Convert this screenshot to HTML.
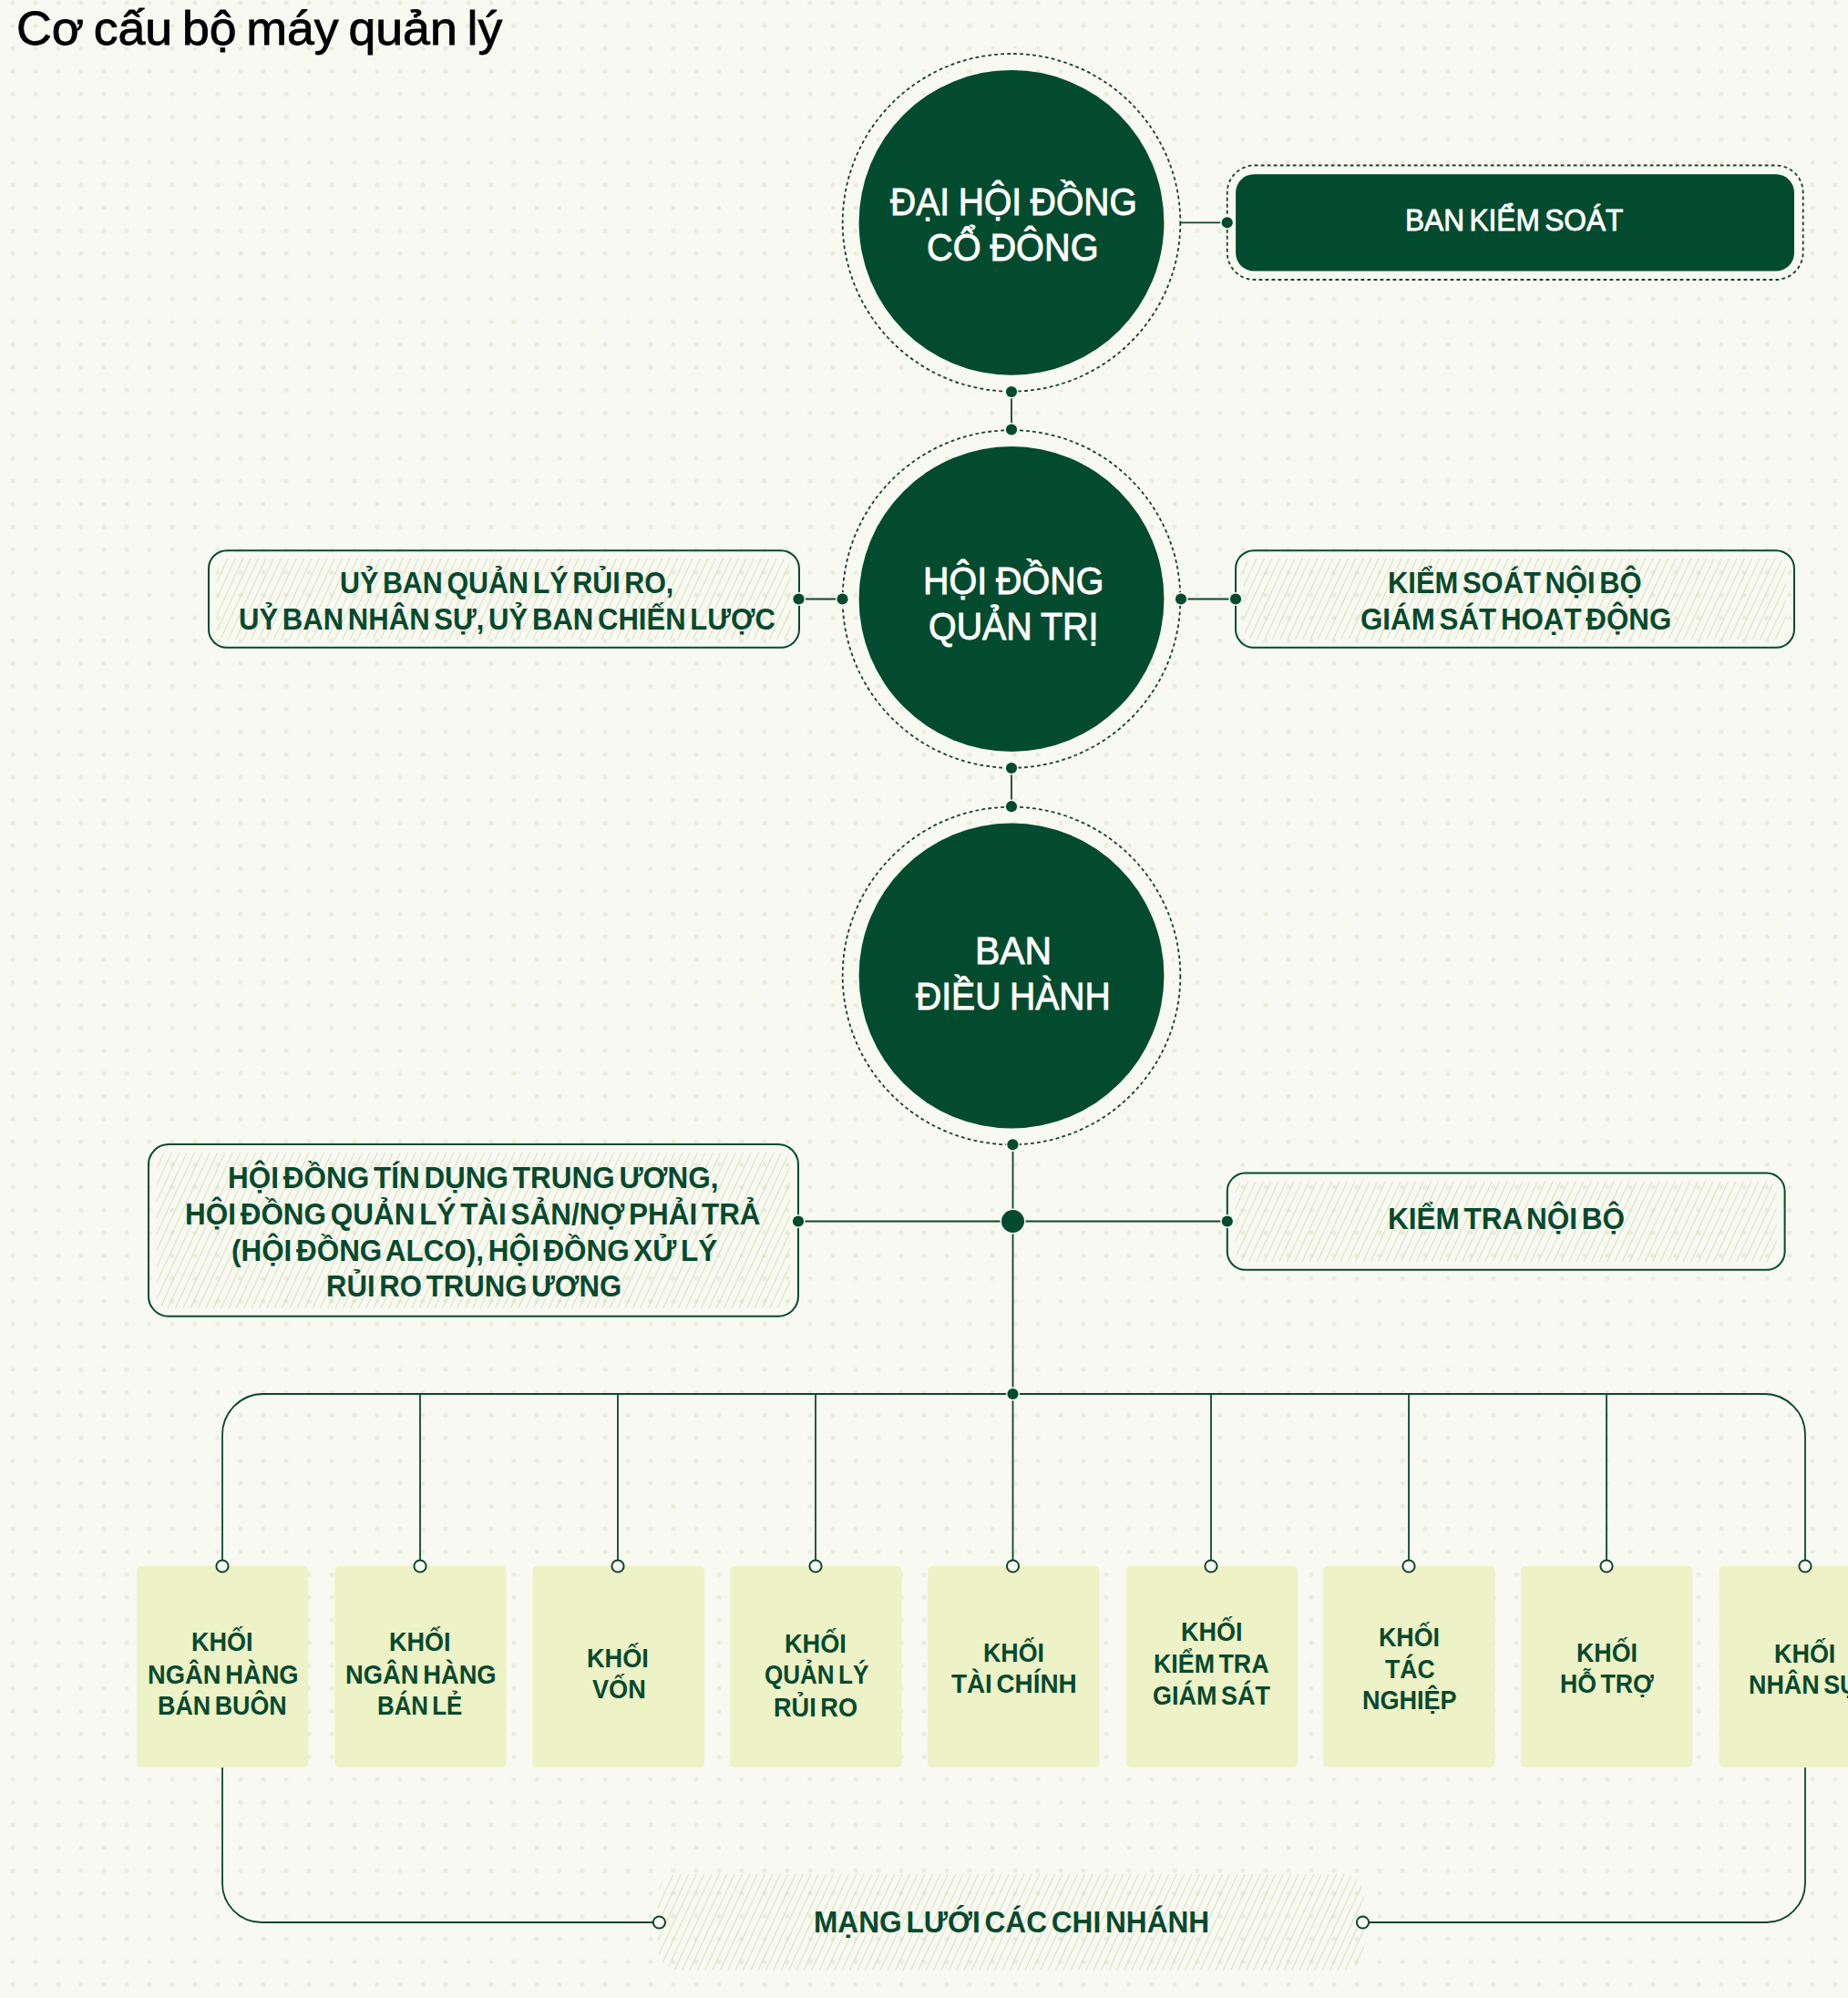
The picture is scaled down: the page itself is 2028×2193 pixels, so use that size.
<!DOCTYPE html>
<html><head><meta charset="utf-8"><title>Cơ cấu bộ máy quản lý</title>
<style>
html,body{margin:0;padding:0}
body{width:2028px;height:2193px;position:relative;overflow:hidden;background:#f8f9f1;font-family:"Liberation Sans",sans-serif}
.t{position:absolute;white-space:nowrap;transform-origin:0 0}
</style></head><body>
<svg width="2028" height="2193" viewBox="0 0 2028 2193" style="position:absolute;left:0;top:0"><defs><pattern id="dots" x="1.5" y="-9.3" width="25" height="25" patternUnits="userSpaceOnUse"><circle cx="12.5" cy="12.5" r="2.5" fill="#e9edd8"/></pattern><pattern id="hatch" width="7.58" height="8" patternUnits="userSpaceOnUse" patternTransform="rotate(25)"><rect x="0" y="0" width="1" height="8" fill="#d9dfbf"/></pattern></defs><rect width="2028" height="2193" fill="#f8f9f1"/><rect width="2028" height="2193" fill="url(#dots)"/><circle cx="1110" cy="244.3" r="185.3" fill="none" stroke="#f8f9f1" stroke-width="12"/><circle cx="1110" cy="244.3" r="185.3" fill="none" stroke="#163f2c" stroke-width="1.8" stroke-dasharray="3.8 3.2"/><circle cx="1110" cy="244.3" r="167.4" fill="#034b2e"/><circle cx="1110" cy="657.5" r="185.3" fill="none" stroke="#f8f9f1" stroke-width="12"/><circle cx="1110" cy="657.5" r="185.3" fill="none" stroke="#163f2c" stroke-width="1.8" stroke-dasharray="3.8 3.2"/><circle cx="1110" cy="657.5" r="167.4" fill="#034b2e"/><circle cx="1110" cy="1071" r="185.3" fill="none" stroke="#f8f9f1" stroke-width="12"/><circle cx="1110" cy="1071" r="185.3" fill="none" stroke="#163f2c" stroke-width="1.8" stroke-dasharray="3.8 3.2"/><circle cx="1110" cy="1071" r="167.4" fill="#034b2e"/><rect x="1346.7" y="181.5" width="632" height="125.5" rx="30" fill="#f8f9f1" stroke="#163f2c" stroke-width="1.8" stroke-dasharray="3.8 3.2"/><rect x="1356.1" y="191.3" width="612.9" height="106.2" rx="20" fill="#034b2e"/><rect x="238" y="613.2" width="630" height="88.59999999999991" rx="11" fill="url(#hatch)"/><rect x="229" y="604.2" width="648" height="106.59999999999991" rx="20" fill="none" stroke="#034b2e" stroke-width="2"/><rect x="1365" y="613.2" width="595" height="88.59999999999991" rx="11" fill="url(#hatch)"/><rect x="1356" y="604.2" width="613" height="106.59999999999991" rx="20" fill="none" stroke="#034b2e" stroke-width="2"/><rect x="172" y="1265" width="695" height="170.79999999999995" rx="13" fill="url(#hatch)"/><rect x="163" y="1256" width="713" height="188.79999999999995" rx="22" fill="none" stroke="#034b2e" stroke-width="2"/><rect x="1355.8" y="1296.5" width="593.8" height="88.29999999999995" rx="11" fill="url(#hatch)"/><rect x="1346.8" y="1287.5" width="611.8" height="106.29999999999995" rx="20" fill="none" stroke="#034b2e" stroke-width="2"/><rect x="722" y="2057" width="775" height="105.5" rx="24" fill="url(#hatch)"/><rect x="150" y="1719" width="188.2" height="220.8" rx="5" fill="#edf2c7"/><rect x="367.5" y="1719" width="188.2" height="220.8" rx="5" fill="#edf2c7"/><rect x="584.5" y="1719" width="188.2" height="220.8" rx="5" fill="#edf2c7"/><rect x="801.2" y="1719" width="188.2" height="220.8" rx="5" fill="#edf2c7"/><rect x="1018.3" y="1719" width="188.2" height="220.8" rx="5" fill="#edf2c7"/><rect x="1235.8" y="1719" width="188.2" height="220.8" rx="5" fill="#edf2c7"/><rect x="1452.2" y="1719" width="188.2" height="220.8" rx="5" fill="#edf2c7"/><rect x="1669" y="1719" width="188.2" height="220.8" rx="5" fill="#edf2c7"/><rect x="1886.8" y="1719" width="188.2" height="220.8" rx="5" fill="#edf2c7"/><line x1="1295.5" y1="244.3" x2="1346.7" y2="244.3" stroke="#0c462d" stroke-width="1.8"/><line x1="1110" y1="430" x2="1110" y2="471.5" stroke="#0c462d" stroke-width="1.8"/><line x1="876.5" y1="657.5" x2="924.5" y2="657.5" stroke="#0c462d" stroke-width="1.8"/><line x1="1296" y1="657.5" x2="1356" y2="657.5" stroke="#0c462d" stroke-width="1.8"/><line x1="1110" y1="843" x2="1110" y2="885.2" stroke="#0c462d" stroke-width="1.8"/><line x1="1111.5" y1="1256.3" x2="1111.5" y2="1530" stroke="#0c462d" stroke-width="1.8"/><line x1="876" y1="1340.5" x2="1346.8" y2="1340.5" stroke="#0c462d" stroke-width="1.8"/><path d="M244 1719 V1575 A45 45 0 0 1 289 1530 H1936 A45 45 0 0 1 1981 1575 V1719" fill="none" stroke="#0c462d" stroke-width="1.8"/><line x1="461" y1="1530" x2="461" y2="1719" stroke="#0c462d" stroke-width="1.8"/><line x1="678" y1="1530" x2="678" y2="1719" stroke="#0c462d" stroke-width="1.8"/><line x1="895" y1="1530" x2="895" y2="1719" stroke="#0c462d" stroke-width="1.8"/><line x1="1111.5" y1="1530" x2="1111.5" y2="1719" stroke="#0c462d" stroke-width="1.8"/><line x1="1329" y1="1530" x2="1329" y2="1719" stroke="#0c462d" stroke-width="1.8"/><line x1="1546" y1="1530" x2="1546" y2="1719" stroke="#0c462d" stroke-width="1.8"/><line x1="1763" y1="1530" x2="1763" y2="1719" stroke="#0c462d" stroke-width="1.8"/><path d="M244 1940 V2067 A43 43 0 0 0 287 2110 H723.4" fill="none" stroke="#0c462d" stroke-width="1.8"/><path d="M1981 1940 V2067 A43 43 0 0 1 1938 2110 H1495.5" fill="none" stroke="#0c462d" stroke-width="1.8"/><circle cx="1346.7" cy="244.3" r="6.1" fill="#034b2e" stroke="#f8f9f1" stroke-width="3" paint-order="stroke"/><circle cx="1110" cy="430" r="6.1" fill="#034b2e" stroke="#f8f9f1" stroke-width="3" paint-order="stroke"/><circle cx="1110" cy="471.5" r="6.1" fill="#034b2e" stroke="#f8f9f1" stroke-width="3" paint-order="stroke"/><circle cx="924.5" cy="657.5" r="6.1" fill="#034b2e" stroke="#f8f9f1" stroke-width="3" paint-order="stroke"/><circle cx="1296" cy="657.5" r="6.1" fill="#034b2e" stroke="#f8f9f1" stroke-width="3" paint-order="stroke"/><circle cx="1110" cy="843" r="6.1" fill="#034b2e" stroke="#f8f9f1" stroke-width="3" paint-order="stroke"/><circle cx="1110" cy="885.2" r="6.1" fill="#034b2e" stroke="#f8f9f1" stroke-width="3" paint-order="stroke"/><circle cx="1111.4" cy="1256.3" r="6.1" fill="#034b2e" stroke="#f8f9f1" stroke-width="3" paint-order="stroke"/><circle cx="876.5" cy="657.5" r="6.1" fill="#034b2e" stroke="#f8f9f1" stroke-width="3" paint-order="stroke"/><circle cx="1356" cy="657.5" r="6.1" fill="#034b2e" stroke="#f8f9f1" stroke-width="3" paint-order="stroke"/><circle cx="876" cy="1340.5" r="6.1" fill="#034b2e" stroke="#f8f9f1" stroke-width="3" paint-order="stroke"/><circle cx="1346.8" cy="1340.5" r="6.1" fill="#034b2e" stroke="#f8f9f1" stroke-width="3" paint-order="stroke"/><circle cx="1111.5" cy="1530" r="6.1" fill="#034b2e" stroke="#f8f9f1" stroke-width="3" paint-order="stroke"/><circle cx="1111.5" cy="1340.5" r="12.5" fill="#034b2e" stroke="#f8f9f1" stroke-width="3" paint-order="stroke"/><circle cx="244" cy="1719" r="6.6" fill="#f8f9f1" stroke="#0c462d" stroke-width="2"/><circle cx="461" cy="1719" r="6.6" fill="#f8f9f1" stroke="#0c462d" stroke-width="2"/><circle cx="678" cy="1719" r="6.6" fill="#f8f9f1" stroke="#0c462d" stroke-width="2"/><circle cx="895" cy="1719" r="6.6" fill="#f8f9f1" stroke="#0c462d" stroke-width="2"/><circle cx="1111.5" cy="1719" r="6.6" fill="#f8f9f1" stroke="#0c462d" stroke-width="2"/><circle cx="1329" cy="1719" r="6.6" fill="#f8f9f1" stroke="#0c462d" stroke-width="2"/><circle cx="1546" cy="1719" r="6.6" fill="#f8f9f1" stroke="#0c462d" stroke-width="2"/><circle cx="1763" cy="1719" r="6.6" fill="#f8f9f1" stroke="#0c462d" stroke-width="2"/><circle cx="1981" cy="1719" r="6.6" fill="#f8f9f1" stroke="#0c462d" stroke-width="2"/><circle cx="723.4" cy="2110" r="6.6" fill="#f8f9f1" stroke="#0c462d" stroke-width="2"/><circle cx="1495.5" cy="2110" r="6.6" fill="#f8f9f1" stroke="#0c462d" stroke-width="2"/></svg>
<div class=t style="left:18.05px;top:5.80px;font-weight:400;font-size:51.600px;line-height:51.600px;color:#000;-webkit-text-stroke:0.8px #000;word-spacing:-4px;transform:scaleX(1.0398)">Cơ cấu bộ máy quản lý</div>
<div class=t style="left:977.24px;top:201.11px;font-weight:400;font-size:42.000px;line-height:42.000px;color:#fff;-webkit-text-stroke:0.9px #fff;word-spacing:-1.2px;transform:scaleX(0.9285)">ĐẠI HỘI ĐỒNG</div>
<div class=t style="left:1017.41px;top:251.11px;font-weight:400;font-size:42.000px;line-height:42.000px;color:#fff;-webkit-text-stroke:0.9px #fff;word-spacing:-1.2px;transform:scaleX(0.9450)">CỔ ĐÔNG</div>
<div class=t style="left:1012.97px;top:616.51px;font-weight:400;font-size:42.000px;line-height:42.000px;color:#fff;-webkit-text-stroke:0.9px #fff;word-spacing:-1.2px;transform:scaleX(0.9398)">HỘI ĐỒNG</div>
<div class=t style="left:1019.04px;top:666.51px;font-weight:400;font-size:42.000px;line-height:42.000px;color:#fff;-webkit-text-stroke:0.9px #fff;word-spacing:-1.2px;transform:scaleX(0.9379)">QUẢN TRỊ</div>
<div class=t style="left:1069.66px;top:1022.91px;font-weight:400;font-size:42.000px;line-height:42.000px;color:#fff;-webkit-text-stroke:0.9px #fff;word-spacing:-1.2px;transform:scaleX(0.9742)">BAN</div>
<div class=t style="left:1004.94px;top:1072.91px;font-weight:400;font-size:42.000px;line-height:42.000px;color:#fff;-webkit-text-stroke:0.9px #fff;word-spacing:-1.2px;transform:scaleX(0.9303)">ĐIỀU HÀNH</div>
<div class=t style="left:1541.82px;top:224.17px;font-weight:400;font-size:34.000px;line-height:34.000px;color:#fff;-webkit-text-stroke:0.9px #fff;word-spacing:-3.5px;transform:scaleX(0.9294)">BAN KIỂM SOÁT</div>
<div class=t style="left:372.66px;top:623.28px;font-weight:700;font-size:33.400px;line-height:33.400px;color:#07492d;word-spacing:-4.2px;transform:scaleX(0.9113)">UỶ BAN QUẢN LÝ RỦI RO,</div>
<div class=t style="left:262.02px;top:663.48px;font-weight:700;font-size:33.400px;line-height:33.400px;color:#07492d;word-spacing:-4.2px;transform:scaleX(0.9300)">UỶ BAN NHÂN SỰ, UỶ BAN CHIẾN LƯỢC</div>
<div class=t style="left:1523.07px;top:623.28px;font-weight:700;font-size:33.400px;line-height:33.400px;color:#07492d;word-spacing:-4.2px;transform:scaleX(0.9260)">KIỂM SOÁT NỘI BỘ</div>
<div class=t style="left:1492.65px;top:663.48px;font-weight:700;font-size:33.400px;line-height:33.400px;color:#07492d;word-spacing:-4.2px;transform:scaleX(0.9377)">GIÁM SÁT HOẠT ĐỘNG</div>
<div class=t style="left:249.83px;top:1276.08px;font-weight:700;font-size:33.400px;line-height:33.400px;color:#07492d;word-spacing:-4.2px;transform:scaleX(0.9424)">HỘI ĐỒNG TÍN DỤNG TRUNG ƯƠNG,</div>
<div class=t style="left:203.34px;top:1315.58px;font-weight:700;font-size:33.400px;line-height:33.400px;color:#07492d;word-spacing:-4.2px;transform:scaleX(0.9418)">HỘI ĐỒNG QUẢN LÝ TÀI SẢN/NỢ PHẢI TRẢ</div>
<div class=t style="left:254.42px;top:1355.58px;font-weight:700;font-size:33.400px;line-height:33.400px;color:#07492d;word-spacing:-4.2px;transform:scaleX(0.9404)">(HỘI ĐỒNG ALCO), HỘI ĐỒNG XỬ LÝ</div>
<div class=t style="left:357.86px;top:1395.48px;font-weight:700;font-size:33.400px;line-height:33.400px;color:#07492d;word-spacing:-4.2px;transform:scaleX(0.9318)">RỦI RO TRUNG ƯƠNG</div>
<div class=t style="left:1522.53px;top:1321.48px;font-weight:700;font-size:33.400px;line-height:33.400px;color:#07492d;word-spacing:-4.2px;transform:scaleX(0.9435)">KIỂM TRA NỘI BỘ</div>
<div class=t style="left:892.82px;top:2092.78px;font-weight:700;font-size:33.400px;line-height:33.400px;color:#07492d;word-spacing:-4.2px;transform:scaleX(0.9468)">MẠNG LƯỚI CÁC CHI NHÁNH</div>
<div class=t style="left:210.28px;top:1787.43px;font-weight:700;font-size:29.900px;line-height:29.900px;color:#07492d;word-spacing:-3.2px;transform:scaleX(0.9037)">KHỐI</div>
<div class=t style="left:161.96px;top:1822.63px;font-weight:700;font-size:29.900px;line-height:29.900px;color:#07492d;word-spacing:-3.2px;transform:scaleX(0.9145)">NGÂN HÀNG</div>
<div class=t style="left:173.49px;top:1857.33px;font-weight:700;font-size:29.900px;line-height:29.900px;color:#07492d;word-spacing:-3.2px;transform:scaleX(0.8978)">BÁN BUÔN</div>
<div class=t style="left:427.28px;top:1787.43px;font-weight:700;font-size:29.900px;line-height:29.900px;color:#07492d;word-spacing:-3.2px;transform:scaleX(0.9037)">KHỐI</div>
<div class=t style="left:378.96px;top:1822.63px;font-weight:700;font-size:29.900px;line-height:29.900px;color:#07492d;word-spacing:-3.2px;transform:scaleX(0.9145)">NGÂN HÀNG</div>
<div class=t style="left:414.36px;top:1857.33px;font-weight:700;font-size:29.900px;line-height:29.900px;color:#07492d;word-spacing:-3.2px;transform:scaleX(0.8636)">BÁN LẺ</div>
<div class=t style="left:643.97px;top:1804.53px;font-weight:700;font-size:29.900px;line-height:29.900px;color:#07492d;word-spacing:-3.2px;transform:scaleX(0.9080)">KHỐI</div>
<div class=t style="left:649.80px;top:1839.33px;font-weight:700;font-size:29.900px;line-height:29.900px;color:#07492d;word-spacing:-3.2px;transform:scaleX(0.9071)">VỐN</div>
<div class=t style="left:860.97px;top:1788.53px;font-weight:700;font-size:29.900px;line-height:29.900px;color:#07492d;word-spacing:-3.2px;transform:scaleX(0.9080)">KHỐI</div>
<div class=t style="left:838.85px;top:1823.33px;font-weight:700;font-size:29.900px;line-height:29.900px;color:#07492d;word-spacing:-3.2px;transform:scaleX(0.8710)">QUẢN LÝ</div>
<div class=t style="left:849.07px;top:1858.63px;font-weight:700;font-size:29.900px;line-height:29.900px;color:#07492d;word-spacing:-3.2px;transform:scaleX(0.9073)">RỦI RO</div>
<div class=t style="left:1078.90px;top:1798.83px;font-weight:700;font-size:29.900px;line-height:29.900px;color:#07492d;word-spacing:-3.2px;transform:scaleX(0.8953)">KHỐI</div>
<div class=t style="left:1044.14px;top:1833.43px;font-weight:700;font-size:29.900px;line-height:29.900px;color:#07492d;word-spacing:-3.2px;transform:scaleX(0.9302)">TÀI CHÍNH</div>
<div class=t style="left:1295.88px;top:1775.63px;font-weight:700;font-size:29.900px;line-height:29.900px;color:#07492d;word-spacing:-3.2px;transform:scaleX(0.9023)">KHỐI</div>
<div class=t style="left:1266.10px;top:1810.53px;font-weight:700;font-size:29.900px;line-height:29.900px;color:#07492d;word-spacing:-3.2px;transform:scaleX(0.8958)">KIỂM TRA</div>
<div class=t style="left:1265.21px;top:1845.73px;font-weight:700;font-size:29.900px;line-height:29.900px;color:#07492d;word-spacing:-3.2px;transform:scaleX(0.9015)">GIÁM SÁT</div>
<div class=t style="left:1513.09px;top:1781.53px;font-weight:700;font-size:29.900px;line-height:29.900px;color:#07492d;word-spacing:-3.2px;transform:scaleX(0.8967)">KHỐI</div>
<div class=t style="left:1520.06px;top:1816.73px;font-weight:700;font-size:29.900px;line-height:29.900px;color:#07492d;word-spacing:-3.2px;transform:scaleX(0.8900)">TÁC</div>
<div class=t style="left:1495.28px;top:1851.33px;font-weight:700;font-size:29.900px;line-height:29.900px;color:#07492d;word-spacing:-3.2px;transform:scaleX(0.9043)">NGHIỆP</div>
<div class=t style="left:1730.09px;top:1798.53px;font-weight:700;font-size:29.900px;line-height:29.900px;color:#07492d;word-spacing:-3.2px;transform:scaleX(0.8967)">KHỐI</div>
<div class=t style="left:1712.31px;top:1833.43px;font-weight:700;font-size:29.900px;line-height:29.900px;color:#07492d;word-spacing:-3.2px;transform:scaleX(0.8914)">HỖ TRỢ</div>
<div class=t style="left:1946.79px;top:1799.63px;font-weight:700;font-size:29.900px;line-height:29.900px;color:#07492d;word-spacing:-3.2px;transform:scaleX(0.9009)">KHỐI</div>
<div class=t style="left:1918.79px;top:1834.43px;font-weight:700;font-size:29.900px;line-height:29.900px;color:#07492d;word-spacing:-3.2px;transform:scaleX(0.8982)">NHÂN SỰ</div>
</body></html>
